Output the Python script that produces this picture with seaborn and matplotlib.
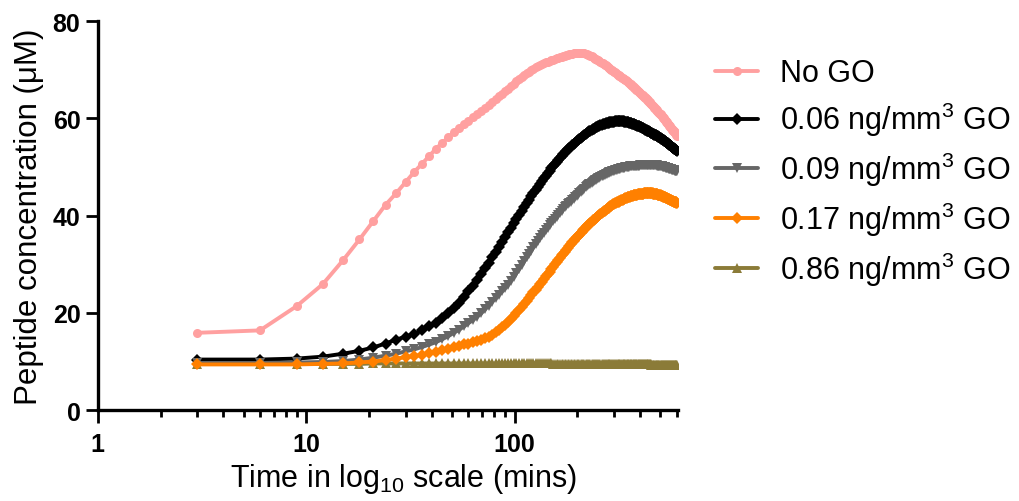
import matplotlib
matplotlib.use('Agg')
import matplotlib.pyplot as plt
import matplotlib.ticker as mticker
import pandas as pd
import seaborn as sns

# sampling every 3 minutes
time_min = list(range(3, 601, 3))

no_go = [
    15.9, 16.4, 21.4, 25.9, 30.8, 35.1, 38.9, 42.2, 44.6, 46.9,
    49.0, 50.7, 52.3, 53.8, 55.0, 56.1, 57.1, 58.0, 58.8, 59.5,
    60.2, 60.8, 61.5, 62.1, 62.7, 63.3, 63.9, 64.5, 65.0, 65.6,
    66.1, 66.6, 67.1, 67.6, 68.1, 68.5, 68.9, 69.3, 69.6, 69.9,
    70.2, 70.5, 70.7, 70.9, 71.1, 71.3, 71.5, 71.6, 71.8, 71.9,
    72.1, 72.2, 72.4, 72.5, 72.6, 72.7, 72.8, 72.9, 73.0, 73.1,
    73.2, 73.3, 73.3, 73.4, 73.4, 73.5, 73.5, 73.5, 73.5, 73.5,
    73.4, 73.4, 73.3, 73.2, 73.1, 73.0, 72.9, 72.8, 72.6, 72.5,
    72.3, 72.2, 72.0, 71.9, 71.7, 71.6, 71.4, 71.3, 71.1, 71.0,
    70.9, 70.7, 70.6, 70.4, 70.3, 70.2, 70.0, 69.9, 69.7, 69.6,
    69.5, 69.3, 69.2, 69.0, 68.9, 68.8, 68.7, 68.5, 68.4, 68.3,
    68.1, 68.0, 67.9, 67.8, 67.6, 67.5, 67.4, 67.2, 67.1, 67.0,
    66.8, 66.7, 66.6, 66.4, 66.3, 66.2, 66.0, 65.9, 65.8, 65.6,
    65.5, 65.4, 65.2, 65.1, 65.0, 64.8, 64.7, 64.6, 64.4, 64.3,
    64.2, 64.1, 63.9, 63.8, 63.7, 63.5, 63.4, 63.3, 63.1, 63.0,
    62.9, 62.7, 62.6, 62.5, 62.3, 62.2, 62.1, 61.9, 61.8, 61.7,
    61.5, 61.4, 61.3, 61.1, 61.0, 60.9, 60.8, 60.6, 60.5, 60.4,
    60.2, 60.1, 60.0, 59.8, 59.7, 59.6, 59.4, 59.3, 59.2, 59.0,
    58.9, 58.8, 58.6, 58.5, 58.4, 58.2, 58.1, 58.0, 57.8, 57.7,
    57.6, 57.5, 57.3, 57.2, 57.1, 56.9, 56.8, 56.7, 56.5, 56.4,
]

go_006 = [
    10.4, 10.4, 10.6, 11.0, 11.6, 12.2, 12.9, 13.7, 14.5, 15.1,
    15.7, 16.4, 17.2, 18.0, 18.9, 19.9, 21.0, 22.1, 23.3, 24.4,
    25.6, 26.8, 28.0, 29.2, 30.3, 31.4, 32.5, 33.6, 34.6, 35.6,
    36.6, 37.5, 38.4, 39.3, 40.2, 41.0, 41.8, 42.6, 43.3, 44.0,
    44.7, 45.3, 45.9, 46.5, 47.1, 47.7, 48.2, 48.7, 49.2, 49.7,
    50.1, 50.6, 51.0, 51.4, 51.8, 52.2, 52.6, 52.9, 53.3, 53.6,
    53.9, 54.2, 54.5, 54.8, 55.0, 55.3, 55.5, 55.8, 56.0, 56.2,
    56.4, 56.6, 56.8, 57.0, 57.2, 57.3, 57.5, 57.6, 57.8, 57.9,
    58.0, 58.2, 58.3, 58.4, 58.5, 58.6, 58.7, 58.8, 58.8, 58.9,
    59.0, 59.0, 59.1, 59.1, 59.2, 59.2, 59.3, 59.3, 59.3, 59.3,
    59.4, 59.4, 59.4, 59.4, 59.4, 59.4, 59.4, 59.4, 59.4, 59.4,
    59.4, 59.3, 59.3, 59.3, 59.2, 59.2, 59.2, 59.1, 59.1, 59.0,
    59.0, 58.9, 58.9, 58.8, 58.8, 58.7, 58.7, 58.6, 58.5, 58.5,
    58.4, 58.4, 58.3, 58.2, 58.2, 58.1, 58.0, 58.0, 57.9, 57.8,
    57.7, 57.7, 57.6, 57.5, 57.4, 57.3, 57.3, 57.2, 57.1, 57.0,
    56.9, 56.9, 56.8, 56.8, 56.7, 56.6, 56.6, 56.5, 56.5, 56.4,
    56.3, 56.3, 56.2, 56.1, 56.1, 56.0, 55.9, 55.8, 55.8, 55.7,
    55.6, 55.6, 55.5, 55.4, 55.3, 55.3, 55.2, 55.1, 55.0, 54.9,
    54.9, 54.8, 54.7, 54.6, 54.5, 54.5, 54.4, 54.3, 54.2, 54.1,
    54.0, 54.0, 53.9, 53.8, 53.7, 53.6, 53.5, 53.4, 53.4, 53.3,
]

go_009 = [
    9.7, 9.7, 9.8, 9.9, 10.1, 10.4, 10.8, 11.2, 11.6, 12.1,
    12.5, 13.0, 13.5, 14.0, 14.6, 15.2, 15.9, 16.5, 17.2, 17.9,
    18.5, 19.2, 19.9, 20.7, 21.5, 22.3, 23.0, 23.7, 24.4, 25.1,
    25.8, 26.6, 27.4, 28.2, 29.0, 29.8, 30.6, 31.4, 32.1, 32.8,
    33.5, 34.2, 34.8, 35.4, 36.0, 36.5, 37.0, 37.5, 38.0, 38.5,
    38.9, 39.4, 39.8, 40.2, 40.6, 41.0, 41.3, 41.7, 42.0, 42.3,
    42.6, 42.9, 43.2, 43.5, 43.8, 44.1, 44.3, 44.6, 44.8, 45.1,
    45.3, 45.5, 45.8, 46.0, 46.2, 46.4, 46.6, 46.8, 46.9, 47.1,
    47.3, 47.4, 47.6, 47.7, 47.8, 48.0, 48.1, 48.2, 48.3, 48.4,
    48.5, 48.6, 48.7, 48.8, 48.9, 49.0, 49.0, 49.1, 49.2, 49.2,
    49.3, 49.4, 49.4, 49.5, 49.5, 49.6, 49.6, 49.7, 49.7, 49.8,
    49.8, 49.8, 49.9, 49.9, 49.9, 50.0, 50.0, 50.0, 50.1, 50.1,
    50.1, 50.1, 50.2, 50.2, 50.2, 50.2, 50.3, 50.3, 50.3, 50.3,
    50.3, 50.3, 50.4, 50.4, 50.4, 50.4, 50.4, 50.4, 50.4, 50.4,
    50.4, 50.5, 50.5, 50.5, 50.5, 50.5, 50.5, 50.5, 50.5, 50.5,
    50.5, 50.5, 50.5, 50.5, 50.4, 50.4, 50.4, 50.4, 50.4, 50.4,
    50.3, 50.3, 50.3, 50.3, 50.2, 50.2, 50.2, 50.1, 50.1, 50.1,
    50.0, 50.0, 50.0, 49.9, 49.9, 49.9, 49.8, 49.8, 49.8, 49.7,
    49.7, 49.7, 49.6, 49.6, 49.6, 49.5, 49.5, 49.5, 49.4, 49.4,
    49.4, 49.3, 49.3, 49.3, 49.2, 49.2, 49.2, 49.1, 49.1, 49.1,
]

go_017 = [
    9.4, 9.4, 9.4, 9.5, 9.6, 9.8, 10.0, 10.3, 10.6, 10.9,
    11.1, 11.4, 11.7, 12.0, 12.3, 12.6, 12.9, 13.2, 13.5, 13.7,
    14.0, 14.2, 14.5, 14.8, 15.1, 15.5, 16.0, 16.5, 17.0, 17.6,
    18.2, 18.8, 19.4, 20.0, 20.6, 21.2, 21.8, 22.4, 23.0, 23.6,
    24.2, 24.8, 25.3, 25.9, 26.4, 27.0, 27.5, 28.0, 28.5, 29.0,
    29.5, 30.0, 30.4, 30.9, 31.3, 31.8, 32.2, 32.6, 33.0, 33.4,
    33.8, 34.1, 34.5, 34.8, 35.2, 35.5, 35.8, 36.1, 36.4, 36.7,
    37.0, 37.3, 37.5, 37.8, 38.0, 38.3, 38.5, 38.7, 39.0, 39.2,
    39.4, 39.6, 39.8, 40.0, 40.2, 40.4, 40.5, 40.7, 40.9, 41.0,
    41.2, 41.3, 41.5, 41.6, 41.8, 41.9, 42.0, 42.2, 42.3, 42.4,
    42.5, 42.6, 42.7, 42.8, 42.9, 43.0, 43.1, 43.2, 43.3, 43.3,
    43.4, 43.5, 43.6, 43.6, 43.7, 43.8, 43.8, 43.9, 43.9, 44.0,
    44.0, 44.1, 44.1, 44.2, 44.2, 44.2, 44.3, 44.3, 44.3, 44.4,
    44.4, 44.4, 44.4, 44.5, 44.5, 44.5, 44.5, 44.5, 44.6, 44.6,
    44.6, 44.6, 44.6, 44.6, 44.6, 44.6, 44.6, 44.6, 44.6, 44.6,
    44.6, 44.6, 44.6, 44.5, 44.5, 44.5, 44.5, 44.5, 44.4, 44.4,
    44.4, 44.3, 44.3, 44.3, 44.2, 44.2, 44.2, 44.1, 44.1, 44.0,
    44.0, 43.9, 43.9, 43.9, 43.8, 43.8, 43.7, 43.7, 43.6, 43.6,
    43.5, 43.5, 43.4, 43.4, 43.3, 43.3, 43.2, 43.2, 43.1, 43.1,
    43.0, 43.0, 42.9, 42.9, 42.8, 42.8, 42.7, 42.7, 42.6, 42.6,
]

go_086 = [
    9.5, 9.5, 9.5, 9.5, 9.5, 9.5, 9.6, 9.6, 9.6, 9.6,
    9.6, 9.6, 9.6, 9.6, 9.6, 9.6, 9.6, 9.6, 9.6, 9.6,
    9.6, 9.6, 9.6, 9.6, 9.6, 9.6, 9.6, 9.6, 9.6, 9.6,
    9.6, 9.6, 9.6, 9.6, 9.6, 9.6, 9.6, 9.6, 9.6, 9.6,
    9.6, 9.6, 9.6, 9.6, 9.6, 9.6, 9.6, 9.6, 9.6, 9.6,
    9.5, 9.5, 9.5, 9.5, 9.5, 9.5, 9.5, 9.5, 9.5, 9.5,
    9.5, 9.5, 9.5, 9.5, 9.5, 9.5, 9.5, 9.5, 9.5, 9.5,
    9.5, 9.5, 9.5, 9.5, 9.5, 9.5, 9.5, 9.5, 9.5, 9.5,
    9.5, 9.5, 9.5, 9.5, 9.5, 9.5, 9.5, 9.5, 9.5, 9.5,
    9.5, 9.5, 9.5, 9.5, 9.5, 9.5, 9.5, 9.5, 9.5, 9.5,
    9.4, 9.4, 9.4, 9.4, 9.4, 9.4, 9.4, 9.4, 9.4, 9.4,
    9.4, 9.4, 9.4, 9.4, 9.4, 9.4, 9.4, 9.4, 9.4, 9.4,
    9.4, 9.4, 9.4, 9.4, 9.4, 9.4, 9.4, 9.4, 9.4, 9.4,
    9.4, 9.4, 9.4, 9.4, 9.4, 9.4, 9.4, 9.4, 9.4, 9.4,
    9.4, 9.4, 9.4, 9.4, 9.4, 9.4, 9.4, 9.4, 9.4, 9.4,
    9.3, 9.3, 9.3, 9.3, 9.3, 9.3, 9.3, 9.3, 9.3, 9.3,
    9.3, 9.3, 9.3, 9.3, 9.3, 9.3, 9.3, 9.3, 9.3, 9.3,
    9.3, 9.3, 9.3, 9.3, 9.3, 9.3, 9.3, 9.3, 9.3, 9.3,
    9.3, 9.3, 9.3, 9.3, 9.3, 9.3, 9.3, 9.3, 9.3, 9.3,
    9.3, 9.3, 9.3, 9.3, 9.3, 9.3, 9.3, 9.3, 9.3, 9.3,
]

groups = ['No GO', '0.06 ng/mm$^3$ GO', '0.09 ng/mm$^3$ GO',
          '0.17 ng/mm$^3$ GO', '0.86 ng/mm$^3$ GO']
series = [no_go, go_006, go_009, go_017, go_086]
colors = ['#ffa0a0', '#000000', '#666666', '#ff8000', '#8b7b38']
marker_list = ['o', 'D', 'v', 'D', '^']

df = pd.concat([pd.DataFrame({'time': time_min, 'conc': vals, 'group': g})
                for g, vals in zip(groups, series)], ignore_index=True)

sns.set_style('ticks', {'axes.edgecolor': 'black', 'text.color': 'black',
                        'axes.labelcolor': 'black', 'xtick.color': 'black',
                        'ytick.color': 'black'})
plt.rcParams['font.family'] = ['Liberation Sans', 'DejaVu Sans']
plt.rcParams['mathtext.default'] = 'regular'

fig = plt.figure(figsize=(10.19, 5.02), dpi=100)
ax = fig.add_axes([0.096, 0.181, 0.569, 0.775])

sns.lineplot(data=df, x='time', y='conc', hue='group', style='group',
             hue_order=groups, style_order=groups,
             palette=dict(zip(groups, colors)), markers=dict(zip(groups, marker_list)),
             dashes=False, errorbar=None, lw=2.8, markersize=6.5, markeredgewidth=0,
             ax=ax)

# olive curve sits under the others at the start
for line in ax.lines:
    if line.get_color() == '#8b7b38':
        line.set_zorder(1.5)

ax.set_xscale('log')
ax.set_xlim(1, 605)
ax.set_ylim(0, 80)
ax.set_yticks([0, 20, 40, 60, 80])
ax.xaxis.set_major_locator(mticker.FixedLocator([1, 10, 100]))
ax.xaxis.set_major_formatter(mticker.FixedFormatter(['1', '10', '100']))
ax.xaxis.set_minor_locator(mticker.LogLocator(base=10, subs=range(2, 10)))
ax.xaxis.set_minor_formatter(mticker.NullFormatter())

sns.despine(ax=ax)
for sp in ['left', 'bottom']:
    ax.spines[sp].set_linewidth(2.4)
    ax.spines[sp].set_color('black')
ax.tick_params(axis='both', which='major', length=9, width=2, labelsize=18,
               color='black', labelcolor='black')
ax.tick_params(axis='x', which='major', pad=7)
ax.tick_params(axis='x', which='minor', length=5, width=2, color='black')
for lab in ax.get_xticklabels() + ax.get_yticklabels():
    lab.set_fontweight('bold')

ax.set_xlabel(r'Time in log$_{10}$ scale (mins)', fontsize=22, color='black')
ax.set_ylabel('Peptide concentration (μM)', fontsize=22.5, labelpad=6, color='black')
ax.xaxis.set_label_coords(0.528, -0.13)

handles, labels = ax.get_legend_handles_labels()
leg = ax.legend(handles, labels, loc='center left', bbox_to_anchor=(0.702, 0.653),
                bbox_transform=fig.transFigure, frameon=False, fontsize=22,
                handlelength=1.4, handletextpad=0.7, labelspacing=0.38,
                borderpad=0, borderaxespad=0)
for txt in leg.get_texts():
    txt.set_color('black')

fig.savefig('out.png', dpi=100)
